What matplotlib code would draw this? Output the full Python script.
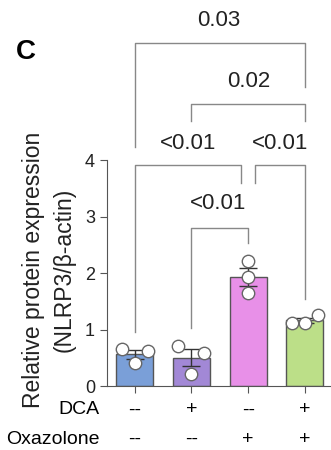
import numpy as np
import matplotlib
matplotlib.use('Agg')
import matplotlib.pyplot as plt

plt.rcParams['font.family'] = ['Liberation Sans', 'DejaVu Sans']

# 数据
groups = ['Ctrl', 'DCA', 'Oxa', 'DCA+Oxa']
points = [[0.65, 0.62, 0.41],
          [0.71, 0.58, 0.21],
          [2.22, 1.93, 1.65],
          [1.12, 1.26, 1.12]]
colors = ['#7A9FD8', '#A288D6', '#E890E8', '#BCDF88']
dca_row = ['--', '+', '--', '+']
oxa_row = ['--', '--', '+', '+']
# (左组, 右组, 横线高度, 左腿底, 右腿底, p值)
brackets = [(0, 3, 6.08, 4.24, 5.30, '0.03'),
            (1, 3, 4.99, 4.70, 4.70, '0.02'),
            (0, 1.88, 3.91, 0.96, 3.60, '<0.01'),
            (2.12, 3, 3.91, 3.60, 1.55, '<0.01'),
            (1, 2, 2.80, 1.02, 2.53, '<0.01')]
label_x = [1.48, 2.01, 0.94, 2.56, 1.47]
label_y = [6.47, 5.39, 4.30, 4.30, 3.24]

means = [np.mean(p) for p in points]
sems = [np.std(p, ddof=1) / np.sqrt(len(p)) for p in points]
x = np.arange(len(groups))

fig = plt.figure(figsize=(3.31, 4.5), dpi=100)
ax = fig.add_axes([0.323, 0.142, 0.677, 0.502])

ax.bar(x, means, width=0.65, color=colors, edgecolor='#555555', linewidth=1, zorder=2)
ax.errorbar(x, means, yerr=sems, fmt='none', ecolor='#333333', elinewidth=1,
            capsize=6.5, capthick=1, zorder=3)
for i, p in enumerate(points):
    offs = [-0.23, 0.23, 0] if i != 2 else [0, 0, 0]
    ax.scatter(x[i] + np.array(offs), p, s=80, facecolor='white', edgecolor='#666666',
               linewidth=1, zorder=4, clip_on=False)

ax.set_xlim(-0.49, 3.46)
ax.set_ylim(0, 4)
ax.set_yticks([0, 1, 2, 3, 4])
ax.set_xticks(x)
ax.set_xticklabels([])
for s in ['top', 'right']:
    ax.spines[s].set_visible(False)
for s in ['left', 'bottom']:
    ax.spines[s].set_color('#555555')
ax.tick_params(colors='#555555', labelcolor='#222222', labelsize=13, length=5)

# y轴标题分两行画
fig.text(34 / 331, 1 - 270 / 450, 'Relative protein expression',
         rotation=90, ha='center', va='center', fontsize=16.5, color='#222222')
fig.text(64 / 331, 1 - 270 / 450, '(NLRP3/β-actin)',
         rotation=90, ha='center', va='center', fontsize=16.5, color='#222222')

# 显著性括号
for a, b, h, l1, l2, txt in brackets:
    ax.plot([a, a, b, b], [l1, h, h, l2], color='#888888', lw=1, clip_on=False)
for (a, b, h, l1, l2, txt), tx, ty in zip(brackets, label_x, label_y):
    ax.text(tx, ty, txt, ha='center', va='center', fontsize=16, color='#222222',
            clip_on=False)

# 底部表格
trans = ax.get_xaxis_transform()
for i in range(4):
    ax.text(x[i], -0.105, dca_row[i], ha='center', va='center', fontsize=14,
            transform=trans)
    ax.text(x[i], -0.235, oxa_row[i], ha='center', va='center', fontsize=14,
            transform=trans)
fig.text(100 / 331, 1 - 410 / 450, 'DCA', ha='right', va='center', fontsize=14)
fig.text(6 / 331, 1 - 439 / 450, 'Oxazolone', ha='left', va='center', fontsize=14)

fig.text(16 / 331, 1 - 52 / 450, 'C', fontsize=20, fontweight='bold', ha='left', va='center')

fig.savefig('out.png', dpi=100)
